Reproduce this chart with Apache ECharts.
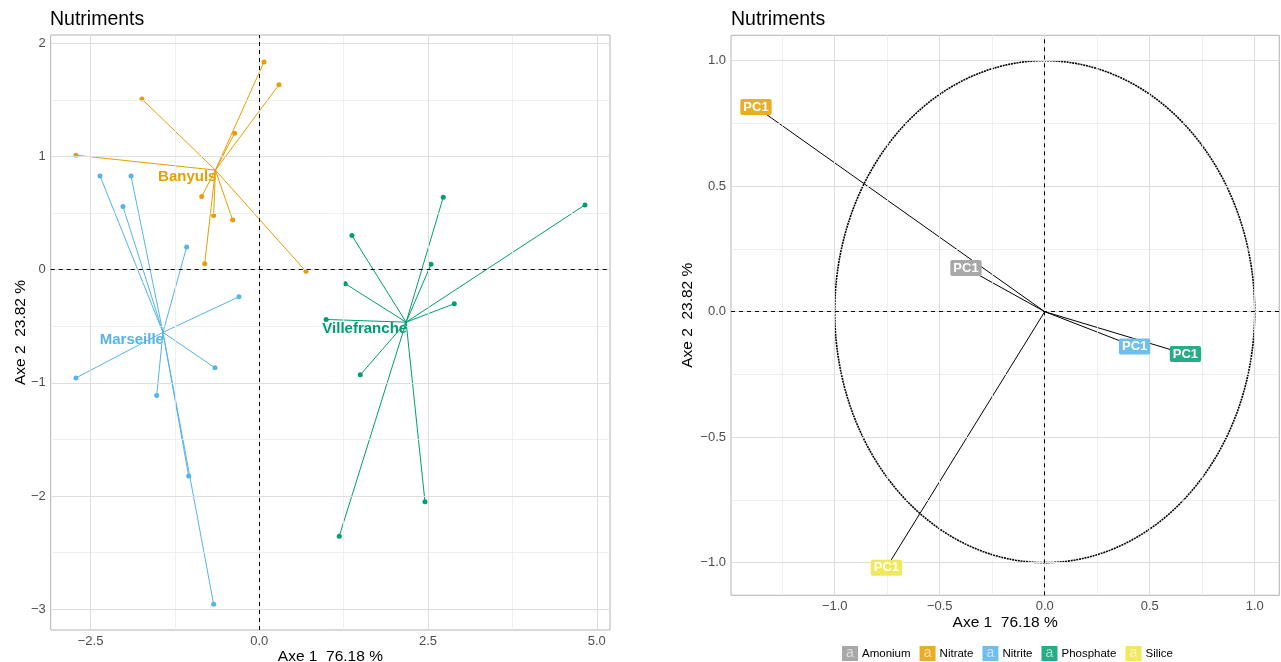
<!DOCTYPE html>
<html>
<head>
<meta charset="utf-8">
<script src="https://cdn.jsdelivr.net/npm/echarts@6/dist/echarts.min.js"></script>
<style>
  html, body { margin: 0; padding: 0; background: #fff; }
  #chart { width: 1281px; height: 662px; }
</style>
</head>
<body>
<div id="chart"></div>
<script>
    // individus (axe 1, axe 2) par site
    const groupNames = ['Banyuls', 'Marseille', 'Villefranche'];
    const groupColors = ['#E69F00', '#56B4E9', '#009E73'];
    const banyuls = [[0.07, 1.835], [0.292, 1.634], [-1.738, 1.507], [-0.365, 1.206], [-2.716, 1.011],
        [-0.853, 0.646], [-0.676, 0.478], [-0.394, 0.439], [-0.809, 0.053], [0.692, -0.015]];
    const marseille = [[-2.36, 0.828], [-1.90, 0.828], [-2.019, 0.557], [-1.076, 0.2], [-0.301, -0.239],
        [-2.716, -0.956], [-0.656, -0.867], [-1.52, -1.112], [-1.046, -1.823], [-0.676, -2.956]];
    const villefranche = [[2.726, 0.64], [4.825, 0.572], [1.373, 0.301], [2.544, 0.047], [1.274, -0.124],
        [2.889, -0.301], [1.496, -0.929], [2.455, -2.05], [1.185, -2.354], [0.99, -0.44]];

    // variables (cercle des corrélations)
    const varNames = ['Amonium', 'Nitrate', 'Nitrite', 'Phosphate', 'Silice'];
    const varColors = ['#999999', '#E69F00', '#56B4E9', '#009E73', '#F0E442'];
    const varX = [-0.375, -1.375, 0.428, 0.670, -0.754];
    const varY = [0.174, 0.815, -0.139, -0.169, -1.02];

    // graduations
    const leftXTicks = [-2.5, 0, 2.5, 5];
    const leftYTicks = [-3, -2, -1, 0, 1, 2];
    const rightTicks = [-1, -0.5, 0, 0.5, 1];

    const FONT = '"Liberation Sans", Arial, Helvetica, sans-serif';
    const groups = [banyuls, marseille, villefranche];

    // couleur mélangée avec le blanc (alpha du label ggplot)
    const blend = (hex, a) => {
        const n = parseInt(hex.slice(1), 16);
        const m = c => Math.round(c * a + 255 * (1 - a));
        return `rgb(${m(n >> 16)},${m((n >> 8) & 255)},${m(n & 255)})`;
    };
    const fmt = d => v => (v < 0 ? '\u2212' : '') + Math.abs(v).toFixed(d);

    // lignes secondaires = milieux des graduations (+ une de chaque côté)
    const minorOf = (ticks, min, max) => {
        const step = ticks[1] - ticks[0];
        const out = [];
        for (let i = -1; i < ticks.length; i++) {
            const v = ticks[0] + (i + 0.5) * step;
            if (v > min && v < max) out.push(v);
        }
        return out;
    };

    const ranges = {
        lx: [-3.09, 5.196], ly: [-3.183, 2.073],
        rx: [-1.494, 1.117], ry: [-1.13, 1.101]
    };

    const axisBase = (ticks, d, range, name, gap) => ({
        type: 'value',
        min: range[0],
        max: range[1],
        name: name,
        nameLocation: 'middle',
        nameGap: gap,
        nameMoveOverlap: false,
        nameTextStyle: { color: '#000', fontSize: 15.5, fontFamily: FONT },
        axisLine: { show: false },
        splitLine: { show: false },
        axisTick: { show: true, length: 3, customValues: ticks, lineStyle: { color: '#B3B3B3' } },
        axisLabel: { customValues: ticks, formatter: fmt(d), color: '#4D4D4D', fontSize: 13, margin: 5, fontFamily: FONT }
    });

    const gridLines = (gi, xs, ys, width, color) => ({
        type: 'line', xAxisIndex: gi, yAxisIndex: gi, data: [], silent: true, z: 0,
        markLine: {
            silent: true, symbol: 'none', animation: false, label: { show: false },
            lineStyle: { color: color, width: width, type: 'solid' },
            data: xs.map(v => ({ xAxis: v })).concat(ys.map(v => ({ yAxis: v })))
        }
    });
    const zeroLines = gi => ({
        type: 'line', xAxisIndex: gi, yAxisIndex: gi, data: [], silent: true, z: 1,
        markLine: {
            silent: true, symbol: 'none', animation: false, label: { show: false },
            lineStyle: { color: '#000', width: 1, type: [4, 4] },
            data: [{ xAxis: 0 }, { yAxis: 0 }]
        }
    });

    let series = [];
    // panneau gauche
    series.push(gridLines(0, minorOf(leftXTicks, ...ranges.lx), minorOf(leftYTicks, ...ranges.ly), 0.8, '#EBEBEB'));
    series.push(gridLines(0, leftXTicks, leftYTicks, 1, '#DEDEDE'));
    series.push(zeroLines(0));
    groups.forEach((pts, i) => {
        const cx = pts.reduce((s, p) => s + p[0], 0) / pts.length;
        const cy = pts.reduce((s, p) => s + p[1], 0) / pts.length;
        series.push({
            type: 'lines', coordinateSystem: 'cartesian2d', xAxisIndex: 0, yAxisIndex: 0, z: 3,
            silent: true,
            lineStyle: { color: groupColors[i], width: 1, opacity: 1, curveness: 0 },
            data: pts.map(p => ({ coords: [[cx, cy], p] }))
        });
        series.push({
            type: 'scatter', xAxisIndex: 0, yAxisIndex: 0, z: 4, silent: true,
            symbolSize: 5, itemStyle: { color: groupColors[i], opacity: 1 },
            data: pts
        });
        series.push({
            type: 'scatter', xAxisIndex: 0, yAxisIndex: 0, z: 5, silent: true,
            symbolSize: 2, itemStyle: { color: groupColors[i], opacity: 1 },
            data: [[cx, cy]],
            label: {
                show: true, formatter: groupNames[i], position: 'left', distance: 0, offset: [2, 7],
                color: groupColors[i], fontWeight: 'bold', fontSize: 15, fontFamily: FONT
            }
        });
    });

    // panneau droit
    series.push(gridLines(1, minorOf(rightTicks, ...ranges.rx), minorOf(rightTicks, ...ranges.ry), 0.8, '#EBEBEB'));
    series.push(gridLines(1, rightTicks, rightTicks, 1, '#DEDEDE'));
    series.push(zeroLines(1));
    const circle = [];
    for (let a = 0; a <= 360; a += 2) {
        circle.push([Math.cos(a * Math.PI / 180), Math.sin(a * Math.PI / 180)]);
    }
    series.push({
        type: 'line', xAxisIndex: 1, yAxisIndex: 1, data: circle, symbol: 'none', silent: true, z: 2,
        lineStyle: { color: '#000', width: 1.6, type: [2, 0.8] }
    });
    series.push({
        type: 'lines', coordinateSystem: 'cartesian2d', xAxisIndex: 1, yAxisIndex: 1, z: 3, silent: true,
        lineStyle: { color: '#000', width: 1, opacity: 1 },
        data: varNames.map((n, i) => ({ coords: [[0, 0], [varX[i], varY[i]]] }))
    });
    varNames.forEach((n, i) => {
        series.push({
            name: n, type: 'scatter', xAxisIndex: 1, yAxisIndex: 1, z: 5, silent: true,
            symbolSize: 0.1, itemStyle: { color: varColors[i], opacity: 1 },
            data: [[varX[i], varY[i]]],
            label: {
                show: true, formatter: 'PC1', position: 'inside',
                color: '#fff', fontWeight: 'bold', fontSize: 13, fontFamily: FONT,
                backgroundColor: blend(varColors[i], 0.85), borderRadius: 2, padding: [2, 3, 1, 3]
            }
        });
    });

    const rich = { t: { fontSize: 11.5, color: '#000', fontFamily: FONT, padding: [0, 0, 0, 4] } };
    varColors.forEach((c, i) => {
        rich['k' + i] = {
            backgroundColor: blend(c, 0.85), color: 'rgba(255,255,255,0.6)', width: 16, height: 15,
            lineHeight: 15, align: 'center', fontSize: 14, fontFamily: FONT
        };
    });

    const option = {
        animation: false,
        backgroundColor: '#fff',
        title: [
            { text: 'Nutriments', left: 50, top: 10, padding: 0, textStyle: { fontSize: 19.5, fontWeight: 'normal', color: '#000', fontFamily: FONT } },
            { text: 'Nutriments', left: 731, top: 10, padding: 0, textStyle: { fontSize: 19.5, fontWeight: 'normal', color: '#000', fontFamily: FONT } }
        ],
        legend: {
            data: varNames,
            left: 832, top: 641, icon: 'none', itemWidth: 0, itemHeight: 0, itemGap: 4,
            selectedMode: false,
            formatter: name => `{k${varNames.indexOf(name)}|a}{t|${name}}`,
            textStyle: { rich: rich }
        },
        grid: [
            { left: 50.7, top: 35, width: 559.3, height: 595, outerBoundsMode: 'none', show: true, borderColor: '#B3B3B3', borderWidth: 1 },
            { left: 731, top: 35.3, width: 548.3, height: 560, outerBoundsMode: 'none', show: true, borderColor: '#B3B3B3', borderWidth: 1 }
        ],
        xAxis: [
            { gridIndex: 0, ...axisBase(leftXTicks, 1, ranges.lx, 'Axe 1  76.18 %', 19) },
            { gridIndex: 1, ...axisBase(rightTicks, 1, ranges.rx, 'Axe 1  76.18 %', 19) }
        ],
        yAxis: [
            { gridIndex: 0, ...axisBase(leftYTicks, 0, ranges.ly, 'Axe 2  23.82 %', 22) },
            { gridIndex: 1, ...axisBase(rightTicks, 1, ranges.ry, 'Axe 2  23.82 %', 35) }
        ],
        series: series
    };

    const chart = echarts.init(document.getElementById('chart'));
    chart.setOption(option);
</script>
</body>
</html>
